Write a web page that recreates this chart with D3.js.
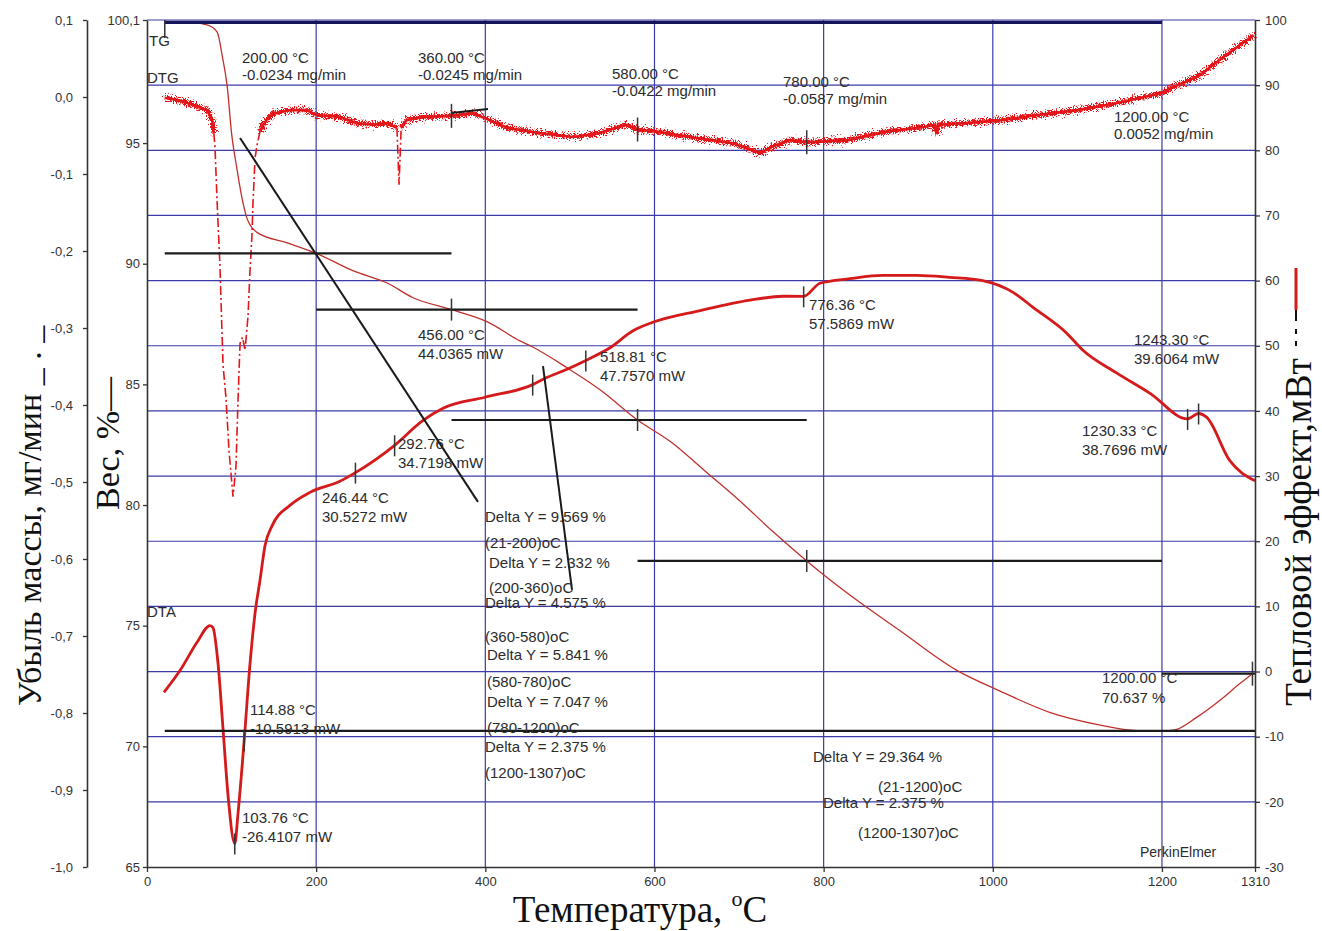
<!DOCTYPE html>
<html>
<head>
<meta charset="utf-8">
<script src="https://cdn.jsdelivr.net/npm/d3@7"></script>
<style>
  body { margin: 0; background: #fff; }
  .sans { font-family: "Liberation Sans", Arial, sans-serif; }
  .serif { font-family: "Liberation Serif", "Times New Roman", serif; }
</style>
</head>
<body>
<svg id="chart" width="1322" height="931"></svg>
<script>
// ---------- data ----------
// TG: sample weight, % vs temperature, °C
const tgCurve = [
  [21,100.0],[50,100.0],[71,99.9],[83,99.6],[89,98.6],[95,97.3],[100,95.4],[106,94.0],
  [113,92.6],[118,91.9],[124,91.5],[130,91.3],[166,90.86],[200,90.431],[244,89.7],
  [284,89.2],[314,88.6],[360,88.099],[402,87.6],[441,86.8],[456,86.55],[497,85.68],
  [536,84.77],[580,83.524],[620,82.6],[660,81.4],[700,80.2],[740,78.9],[780,77.683],
  [831,76.27],[890,74.8],[957,73.16],[1008,72.3],[1068,71.4],[1127,70.88],[1160,70.68],
  [1185,70.63],[1200,70.637],[1215,70.68],[1241,71.2],[1269,71.92],[1292,72.6],[1307,73.012]
];
// DTG: rate of mass change, mg/min
const dtgCurve = [
  [21,-0.001],[36,-0.004],[51,-0.009],[71,-0.017],[77,-0.030],[79,-0.047],[80.4,-0.065],
  [82.8,-0.134],[86.3,-0.221],[88.7,-0.307],[89.9,-0.348],[93.4,-0.391],[97,-0.46],
  [101.7,-0.519],[105.2,-0.48],[107.6,-0.394],[110,-0.320],[113,-0.312],[115.9,-0.329],
  [119.4,-0.285],[121.8,-0.225],[124.1,-0.180],[125.3,-0.138],[127.7,-0.08],[130,-0.063],
  [133.6,-0.045],[137,-0.037],[142,-0.029],[149,-0.022],[169,-0.017],[189,-0.017],
  [200,-0.0234],[228,-0.026],[248,-0.034],[267,-0.036],[284,-0.034],[295.5,-0.040],
  [298,-0.114],[300.5,-0.040],[307,-0.030],[326,-0.026],[360,-0.0245],[385,-0.021],
  [405,-0.030],[426,-0.040],[465,-0.047],[504,-0.052],[534,-0.047],[566,-0.036],
  [580,-0.0422],[603,-0.045],[648,-0.053],[693,-0.060],[725,-0.073],[738,-0.065],
  [760,-0.056],[780,-0.0587],[829,-0.056],[874,-0.045],[919,-0.039],[932,-0.036],
  [934,-0.048],[936,-0.036],[965,-0.034],[1010,-0.030],[1055,-0.023],[1100,-0.017],
  [1146,-0.008],[1200,0.0052],[1213,0.013],[1225,0.018],[1245,0.0286],[1265,0.0455],
  [1284,0.061],[1304,0.0766],[1308,0.0805]
];
// DTA: heat flow, mW
const dtaCurve = [
  [20,-3.2],[39,0.15],[59,4.45],[74.5,7.06],[78,6.75],[84,1.2],[90,-9.0],[96,-19.3],
  [103.76,-26.4107],[107.6,-21.8],[114.88,-10.5913],[121.8,1.2],[127.7,8.9],[133.6,14],
  [139.5,19.3],[148,22.4],[169,25.5],[192.7,27.5],[228,29.2],[246.44,30.5272],
  [292.76,34.7198],[326,38.5],[350,40.4],[399.6,42.1],[456,44.0365],[470.6,45],
  [496.6,46.4],[518.81,47.757],[547.4,49.7],[574.6,52.3],[598,53.6],[654,55.4],[713,57],
  [752,57.6],[776.36,57.5869],[795.7,59.6],[831,60.3],[870,60.8],[910,60.8],[949,60.5],
  [988,60.0],[1024,58.2],[1047.5,55.9],[1087.7,51.9],[1106.6,49.3],[1146.8,45.8],
  [1185.9,42.7],[1230.33,38.7696],[1243.3,39.6064],[1253,39],[1280,32.4],[1310,29.3]
];

// picked points
const dtgPoints = [[200,-0.0234],[360,-0.0245],[580,-0.0422],[780,-0.0587],[1200,0.0052]];
const dtaPoints = [[103.76,-26.4107],[114.88,-10.5913],[246.44,30.5272],[292.76,34.7198],
  [456.00,44.0365],[518.81,47.7570],[776.36,57.5869],[1230.33,38.7696],[1243.30,39.6064]];

// TG step analysis
const tgSteps = [[21,100.0],[200,90.431],[360,88.099],[580,83.524],[780,77.683],[1200,70.637],[1307,73.012]];
const stepSpans = [[21,1200],[21,360],[200,580],[360,780],[580,1200],[21,1310],[1200,1310]];
const stepDeltas = [9.569, 2.332, 4.575, 5.841, 7.047, 2.375];
const stepRanges = ["(21-200)oC","(200-360)oC","(360-580)oC","(580-780)oC","(780-1200)oC","(1200-1307)oC"];
const totalDeltas = [29.364, 2.375];
const totalRanges = ["(21-1200)oC","(1200-1307)oC"];
const tgMarkT = [360, 580, 780];
const stepBrackets = [[[110,95.21],[391.3,80.13]], [[468.2,85.76],[502.5,76.48]]];
const dtgTangent = [[359.4,-0.0208],[403.2,-0.0156]];

// ticks
const xTicks = [0,200,400,600,800,1000,1200,1310];
const gridTemps = [200,400,600,800,1000,1200];
const weightTicks = [65,70,75,80,85,90,95,100.1];
const dtgTicks = [-1.0,-0.9,-0.8,-0.7,-0.6,-0.5,-0.4,-0.3,-0.2,-0.1,0.0,0.1];
const mwTicks = [-30,-20,-10,0,10,20,30,40,50,60,70,80,90,100];

// ---------- layout ----------
const svg = d3.select("#chart");
const x  = d3.scaleLinear().domain([0,1310]).range([147,1255]);
const yW = d3.scaleLinear().domain([65,100.1]).range([867,20]);
const yD = d3.scaleLinear().domain([-1.0,0.1]).range([867,20]);
const yM = d3.scaleLinear().domain([-30,100]).range([867,20]);

const GRID = "#3b3ba8", INK = "#1a1a1a", LABEL = "#2b2b2b";
const RED_DTA = "#d41a1a";

const defs = svg.append("defs");
const flt = defs.append("filter").attr("id","jitter").attr("filterUnits","userSpaceOnUse")
  .attr("x",0).attr("y",0).attr("width",1322).attr("height",931);
flt.append("feTurbulence").attr("type","fractalNoise").attr("baseFrequency","1.1 0.7")
  .attr("numOctaves",2).attr("seed",4).attr("result","n");
flt.append("feDisplacementMap").attr("in","SourceGraphic").attr("in2","n")
  .attr("scale",14).attr("xChannelSelector","R").attr("yChannelSelector","G");

// grid
const grid = svg.append("g").attr("stroke",GRID).attr("stroke-width",1.2);
grid.selectAll("line.v").data(gridTemps).join("line").attr("class","v")
  .attr("x1",d=>x(d)).attr("x2",d=>x(d)).attr("y1",yM(-30)).attr("y2",yM(100));
grid.selectAll("line.h").data(mwTicks.filter(d=>d>-30)).join("line").attr("class","h")
  .attr("x1",x(0)).attr("x2",x(1310)).attr("y1",d=>yM(d)).attr("y2",d=>yM(d));

// curves
const line = (ys) => d3.line().x(d=>x(d[0])).y(d=>ys(d[1]));

// TG
svg.append("path").datum(tgCurve).attr("d", line(yW).curve(d3.curveMonotoneX))
  .attr("fill","none").attr("stroke","#c0302c").attr("stroke-width",1.3);

// DTG: noisy trace, dash-dot on the steep peaks
const steep = [[79.5,132],[296,301]];
const inSteep = t => steep.some(r => t > r[0] && t < r[1]);
const runs = [];
let cur = null;
dtgCurve.forEach((p,i) => {
  const s = i > 0 && inSteep((p[0] + dtgCurve[i-1][0]) / 2);
  if (!cur || cur.steep !== s) {
    cur = {steep: s, pts: i > 0 ? [dtgCurve[i-1]] : []};
    runs.push(cur);
  }
  cur.pts.push(p);
});
const dtgG = svg.append("g").attr("fill","none").attr("stroke","#e3161a");
runs.filter(r=>!r.steep).forEach(r => {
  dtgG.append("path").datum(r.pts).attr("d", line(yD)).attr("stroke-width",4.5)
    .attr("filter","url(#jitter)");
  dtgG.append("path").datum(r.pts).attr("d", line(yD)).attr("stroke-width",2.6);
});
runs.filter(r=>r.steep).forEach(r => {
  dtgG.append("path").datum(r.pts).attr("d", line(yD)).attr("stroke-width",1.6)
    .attr("stroke-dasharray","9,3,2,3");
});

// DTA
svg.append("path").datum(dtaCurve).attr("d", line(yM).curve(d3.curveMonotoneX))
  .attr("fill","none").attr("stroke",RED_DTA).attr("stroke-width",2.8);

// TG step construction lines
const con = svg.append("g").attr("stroke",INK).attr("fill","none");
con.selectAll("line.lvl").data(tgSteps).join("line").attr("class","lvl")
  .attr("x1",(d,i)=>x(stepSpans[i][0])).attr("x2",(d,i)=>x(stepSpans[i][1]))
  .attr("y1",d=>yW(d[1])).attr("y2",d=>yW(d[1]))
  .attr("stroke",(d,i)=> i===0 ? "#14145a" : INK)
  .attr("stroke-width",(d,i)=> i===0 ? 3.2 : 2.2);
con.selectAll("line.br").data(stepBrackets).join("line").attr("class","br")
  .attr("x1",d=>x(d[0][0])).attr("y1",d=>yW(d[0][1]))
  .attr("x2",d=>x(d[1][0])).attr("y2",d=>yW(d[1][1])).attr("stroke-width",2);
con.append("line").attr("x1",x(dtgTangent[0][0])).attr("y1",yD(dtgTangent[0][1]))
  .attr("x2",x(dtgTangent[1][0])).attr("y2",yD(dtgTangent[1][1])).attr("stroke-width",2);

// vertical pick markers
const mk = svg.append("g").attr("stroke","#333").attr("stroke-width",1.5);
const vmark = (px, py, up, down) => mk.append("line")
  .attr("x1",px).attr("x2",px).attr("y1",py-up).attr("y2",py+down);
const tgAt = t => tgSteps.find(s=>s[0]===t)[1];
vmark(x(tgSteps[0][0]), yW(100.1), 0, 18);
tgMarkT.forEach(t => vmark(x(t), yW(tgAt(t)), 11, 11));
vmark(x(1307), yW(tgAt(1307)), 12, 12);
dtgPoints.filter(p=>tgMarkT.includes(p[0])).forEach(p => vmark(x(p[0]), yD(p[1]), 12, 12));
dtaPoints.forEach(p => vmark(x(p[0]), yM(p[1]), 10, 11));

// annotation text
const ann = svg.append("g").attr("class","sans").attr("fill",LABEL).attr("font-size",15);
const block = (px, py, lines, gap=18) => lines.forEach((s,i) =>
  ann.append("text").attr("x",px).attr("y",py+i*gap).text(s));

block(149, 46, ["TG"]);
block(147, 83, ["DTG"]);
block(147, 617, ["DTA"]);

const dtgLabelPos = [[242,63],[418,63],[612,79],[783,87],[1114,122]];
dtgPoints.forEach((p,i) => block(dtgLabelPos[i][0], dtgLabelPos[i][1],
  [`${p[0].toFixed(2)} °C`, `${p[1].toFixed(4)} mg/min`], 17));

const dtaLabelPos = [[242,823],[250,715],[322,503],[398,449],[418,340],[600,362],[809,310],[1082,436],[1134,345]];
dtaPoints.forEach((p,i) => block(dtaLabelPos[i][0], dtaLabelPos[i][1],
  [`${p[0].toFixed(2)} °C`, `${p[1].toFixed(4)} mW`], 19));

block(1102, 683, [`${tgSteps[5][0].toFixed(2)} °C`, `${tgSteps[5][1].toFixed(3)} %`], 20);

const stepLabelPos = [[485,522,548],[489,568,593],[485,608,642],[487,660,687],[487,707,733],[485,752,778]];
stepDeltas.forEach((d,i) => {
  const [px, y1, y2] = stepLabelPos[i];
  ann.append("text").attr("x",px).attr("y",y1).text(`Delta Y = ${d.toFixed(3)} %`);
  ann.append("text").attr("x",px).attr("y",y2).text(stepRanges[i]);
});
const totalLabelPos = [[813,762,878,792],[823,808,858,838]];
totalDeltas.forEach((d,i) => {
  const [x1, y1, x2, y2] = totalLabelPos[i];
  ann.append("text").attr("x",x1).attr("y",y1).text(`Delta Y = ${d.toFixed(3)} %`);
  ann.append("text").attr("x",x2).attr("y",y2).text(totalRanges[i]);
});
ann.append("text").attr("x",1140).attr("y",857).attr("font-size",14).text("PerkinElmer");

// ---------- axes ----------
const comma = d => d3.format(".1f")(d).replace("\u2212","-").replace(".",",");
const styleAxis = g => {
  g.attr("class","sans").attr("font-family",null);
  g.select(".domain").attr("stroke","#333").attr("stroke-width",1.6);
  g.selectAll(".tick line").attr("stroke","#333").attr("stroke-width",1.3);
  g.selectAll(".tick text").attr("fill","#333").attr("font-size",13);
};
svg.append("g").attr("transform","translate(87,0)")
  .call(d3.axisLeft(yD).tickValues(dtgTicks).tickFormat(comma).tickSize(4).tickSizeOuter(0).tickPadding(10))
  .call(styleAxis);
svg.append("g").attr("transform","translate(147,0)")
  .call(d3.axisLeft(yW).tickValues(weightTicks)
    .tickFormat(d => Number.isInteger(d) ? String(d) : comma(d)).tickSize(4).tickSizeOuter(0).tickPadding(3))
  .call(styleAxis);
svg.append("g").attr("transform","translate(1255,0)")
  .call(d3.axisRight(yM).tickValues(mwTicks).tickFormat(d=>String(d)).tickSize(5).tickSizeOuter(0).tickPadding(5))
  .call(styleAxis);
svg.append("g").attr("transform","translate(0,867)")
  .call(d3.axisBottom(x).tickValues(xTicks).tickFormat(d=>String(d)).tickSize(5).tickSizeOuter(0).tickPadding(5))
  .call(styleAxis);

// ---------- titles ----------
const title = (tx, ty, rot, s, size) => svg.append("text").attr("class","serif")
  .attr("transform",`translate(${tx},${ty}) rotate(${rot})`)
  .attr("font-size",size).attr("fill","#111").text(s);
title(41, 706, -90, "Убыль массы, мг/мин _ . _", 34);
title(119, 510, -90, "Вес, %—", 34);
title(1311, 706, -90, "Тепловой эффект,мВт", 37.5);
// line-style keys next to the right title: dash-dot (DTG) and solid red (DTA)
svg.append("line").attr("x1",1296).attr("x2",1296).attr("y1",346).attr("y2",310)
  .attr("stroke","#111").attr("stroke-width",2).attr("stroke-dasharray","5,7,5,8,14");
svg.append("line").attr("x1",1296).attr("x2",1296).attr("y1",268).attr("y2",310)
  .attr("stroke",RED_DTA).attr("stroke-width",3);
const xt = svg.append("text").attr("class","serif").attr("x",640).attr("y",922)
  .attr("text-anchor","middle").attr("font-size",37).attr("fill","#111");
xt.append("tspan").text("Температура, ");
xt.append("tspan").attr("font-size",22).attr("dy",-16).text("o");
xt.append("tspan").attr("dy",16).text("C");
</script>
</body>
</html>
